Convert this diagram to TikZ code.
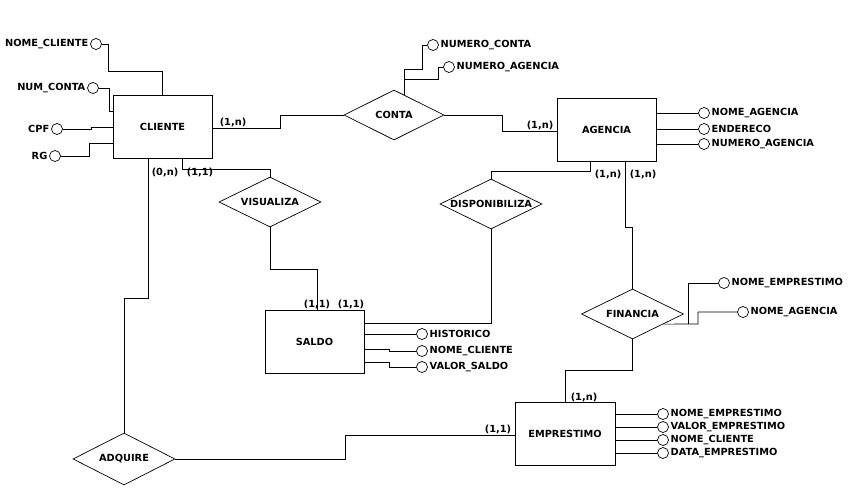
\documentclass[tikz,border=0pt]{standalone}
\usepackage{fontspec}
\setmainfont{DejaVu Sans}
\usetikzlibrary{calc,positioning,shapes.geometric,shadows}

\begin{document}
\begin{tikzpicture}[x=1pt,y=-1pt,line width=0.7pt,
      every node/.style={font=\bfseries\fontsize{9.8}{11}\selectfont},
      entity/.style={draw,fill=white,minimum width=99pt,minimum height=63pt,inner sep=0pt,
      drop shadow={shadow xshift=1.2pt,shadow yshift=-1.2pt,opacity=0.45,fill=gray}},
      rel/.style={draw,diamond,fill=white,minimum width=102pt,minimum height=50pt,inner sep=0pt},
      attr/.style={draw,circle,fill=white,minimum size=11pt,inner sep=0pt},
      lbl/.style={label distance=0.5pt,inner sep=1pt},
      card/.style={inner sep=0pt}]
      \useasboundingbox (0,0) rectangle (857,490);
      % entidades
      \node[entity] (cliente) at (162.5,126.5) {CLIENTE};
      \node[entity] (agencia) at (606.5,129.5) {AGENCIA};
      \node[entity] (saldo) at (314.5,341.5) {SALDO};
      \node[entity,minimum width=100pt] (emprestimo) at (565,433.5) {EMPRESTIMO};
      % relacionamentos
      \node[rel,minimum width=100pt] (conta) at (394,115) {\makebox[0pt]{CONTA}};
      \node[rel] (visualiza) at (270,202) {\makebox[0pt]{VISUALIZA}};
      \node[rel] (disponibiliza) at (491,204) {\makebox[0pt]{DISPONIBILIZA}};
      \node[rel] (financia) at (632.5,314) {\makebox[0pt]{FINANCIA}};
      \node[rel,minimum height=52pt] (adquire) at (124,459) {\makebox[0pt]{ADQUIRE}};
      % atributos
      \node[attr,label={[lbl]left:NOME\_CLIENTE}] (nomecli) at (96,44) {};
      \node[attr,label={[lbl]left:NUM\_CONTA}] (numconta) at (93,88) {};
      \node[attr,label={[lbl]left:CPF}] (cpf) at (57,129) {};
      \node[attr,label={[lbl]left:RG}] (rg) at (55,156) {};
      \node[attr,label={[lbl]right:NUMERO\_CONTA}] (numconta2) at (433,45) {};
      \node[attr,label={[lbl]right:NUMERO\_AGENCIA}] (numag2) at (449,67) {};
      \node[attr,label={[lbl]right:NOME\_AGENCIA}] (nomeag) at (704,113) {};
      \node[attr,label={[lbl]right:ENDERECO}] (endereco) at (704,129) {};
      \node[attr,label={[lbl]right:NUMERO\_AGENCIA}] (numag) at (704,144) {};
      \node[attr,label={[lbl]right:HISTORICO}] (historico) at (422,334) {};
      \node[attr,label={[lbl]right:NOME\_CLIENTE}] (nomecli2) at (422,351) {};
      \node[attr,label={[lbl]right:VALOR\_SALDO}] (valorsaldo) at (422,367) {};
      \node[attr,label={[lbl]right:NOME\_EMPRESTIMO}] (nomeemp2) at (724,283) {};
      \node[attr,label={[lbl]right:NOME\_AGENCIA}] (nomeag2) at (743,312) {};
      \node[attr,label={[lbl]right:NOME\_EMPRESTIMO}] (nomeemp) at (663,414) {};
      \node[attr,label={[lbl]right:VALOR\_EMPRESTIMO}] (valoremp) at (663,427) {};
      \node[attr,label={[lbl]right:NOME\_CLIENTE}] (nomecli3) at (663,440) {};
      \node[attr,label={[lbl]right:DATA\_EMPRESTIMO}] (dataemp) at (663,453) {};
      % atributos de CLIENTE
      \draw (nomecli.east) -| (108,71) -| (cliente.north);
      \draw (numconta.east) -| (109,111) -- (cliente.west |- 0,111);
      \draw (cpf.east) -| (91,127) -- (cliente.west |- 0,127);
      \draw (rg.east) -| (89,143) -- (cliente.west |- 0,143);
      % atributos de CONTA
      \coordinate (contaj) at (404,79);
      \draw ($(conta.north)!0.2!(conta.east)$) |- (422,69) |- (numconta2.west);
      \draw (contaj) -| (438,67) -- (numag2.west);
      % atributos de AGENCIA, SALDO e EMPRESTIMO
      \foreach \a in {nomeag,endereco,numag} \draw (agencia.east |- \a) -- (\a.west);
      \draw (saldo.east |- historico) -- (historico.west);
      \draw (saldo.east |- 0,349) -| (389,351) -- (nomecli2.west);
      \draw (saldo.east |- 0,362) -| (389,367) -- (valorsaldo.west);
      \foreach \a in {nomeemp,valoremp,nomecli3,dataemp} \draw (emprestimo.east |- \a) -- (\a.west);
      % atributos de FINANCIA
      \coordinate (finj) at (688,324);
      \draw ($(financia.east)!0.4!(financia.south)$) -- (698,324) |- (nomeag2.west);
      \draw (finj) |- (nomeemp2.west);
      % ligacoes
      \draw (cliente.east |- 0,128) -| (280,115) -- (conta.west);
      \draw (conta.east) -| (502,131) -- (agencia.west |- 0,131);
      \draw ([xshift=19.5pt]cliente.south) |- (visualiza.north |- 0,169) -- (visualiza.north);
      \draw (visualiza.south) |- (317,269) -- (saldo.north -| 317,0);
      \draw ([xshift=-16.5pt]agencia.south) |- (disponibiliza.north |- 0,171) -- (disponibiliza.north);
      \draw (disponibiliza.south) |- (saldo.east |- 0,323);
      \draw ([xshift=18.5pt]agencia.south) |- (financia.north |- 0,227) -- (financia.north);
      \draw (financia.south) |- (emprestimo.north |- 0,370) -- (emprestimo.north);
      \draw ([xshift=-14.5pt]cliente.south) |- (adquire.north |- 0,298) -- (adquire.north);
      \draw (adquire.east) -| (345,435) -- (emprestimo.west |- 0,435);
      % cardinalidades
      \node[card] at (233,122) {(1,n)};
      \node[card] at (540,125) {(1,n)};
      \node[card] at (165,172) {(0,n)};
      \node[card] at (200,172) {(1,1)};
      \node[card] at (608,174) {(1,n)};
      \node[card] at (643,174) {(1,n)};
      \node[card] at (317,304) {(1,1)};
      \node[card] at (351,304) {(1,1)};
      \node[card] at (584,397) {(1,n)};
      \node[card] at (498,429) {(1,1)};
    \end{tikzpicture}
\end{document}
